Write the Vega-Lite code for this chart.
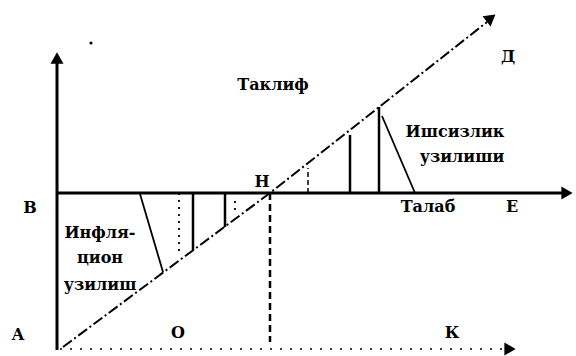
{
  "$schema": "https://vega.github.io/schema/vega-lite/v6.json",
  "width": 576,
  "height": 356,
  "autosize": {"type": "none"},
  "padding": 0,
  "background": "white",
  "config": {"view": {"stroke": null}},
  "datasets": {
    "segs": [
      {"id": "vaxis", "style": "axis", "o": 1, "x": 0, "y": -2},
      {"id": "vaxis", "style": "axis", "o": 2, "x": 0, "y": 286},
      {"id": "haxis", "style": "axis", "o": 1, "x": 0, "y": 155},
      {"id": "haxis", "style": "axis", "o": 2, "x": 505, "y": 155},
      {"id": "baxis", "style": "dotaxis", "o": 1, "x": 3, "y": -1},
      {"id": "baxis", "style": "dotaxis", "o": 2, "x": 448, "y": -1},
      {"id": "diag", "style": "diag", "o": 1, "x": 6, "y": 1},
      {"id": "diag", "style": "diag", "o": 2, "x": 213, "y": 155},
      {"id": "diag", "style": "diag", "o": 3, "x": 430, "y": 326},
      {"id": "hvert", "style": "vdash", "o": 1, "x": 213, "y": 155},
      {"id": "hvert", "style": "vdash", "o": 2, "x": 213, "y": 6},
      {"id": "l1", "style": "dot", "o": 1, "x": 122, "y": 155},
      {"id": "l1", "style": "dot", "o": 2, "x": 122, "y": 95},
      {"id": "l2", "style": "solid", "o": 1, "x": 136, "y": 155},
      {"id": "l2", "style": "solid", "o": 2, "x": 136, "y": 98},
      {"id": "l3", "style": "solid", "o": 1, "x": 168, "y": 155},
      {"id": "l3", "style": "solid", "o": 2, "x": 168, "y": 121},
      {"id": "l4", "style": "dot", "o": 1, "x": 178, "y": 147},
      {"id": "l4", "style": "dot", "o": 2, "x": 178, "y": 134},
      {"id": "l5", "style": "thin", "o": 1, "x": 83, "y": 154},
      {"id": "l5", "style": "thin", "o": 2, "x": 106, "y": 76},
      {"id": "r1", "style": "dash", "o": 1, "x": 251, "y": 155},
      {"id": "r1", "style": "dash", "o": 2, "x": 251, "y": 180},
      {"id": "r2", "style": "solid", "o": 1, "x": 293, "y": 155},
      {"id": "r2", "style": "solid", "o": 2, "x": 293, "y": 213},
      {"id": "r3", "style": "solid", "o": 1, "x": 322, "y": 155},
      {"id": "r3", "style": "solid", "o": 2, "x": 322, "y": 241},
      {"id": "r4", "style": "thin", "o": 1, "x": 325, "y": 232},
      {"id": "r4", "style": "thin", "o": 2, "x": 358, "y": 155}
    ],
    "heads": [
      {"x": 0, "y": 290, "shape": "triangle-up", "angle": 0},
      {"x": 510, "y": 155, "shape": "triangle-right", "angle": 0},
      {"x": 453, "y": -1, "shape": "triangle-right", "angle": 0},
      {"x": 434, "y": 330, "shape": "triangle-up", "angle": 52},
      {"x": 34, "y": 305, "shape": "circle", "angle": 0}
    ],
    "labels": [
      {"x": 216, "y": 263, "text": "Таклиф"},
      {"x": 451, "y": 291, "text": "Д"},
      {"x": 398, "y": 216, "text": "Ишсизлик"},
      {"x": 405, "y": 191, "text": "узилиши"},
      {"x": 371, "y": 141, "text": "Талаб"},
      {"x": 455, "y": 141, "text": "Е"},
      {"x": -27, "y": 140, "text": "В"},
      {"x": 43, "y": 115, "text": "Инфля-"},
      {"x": 43, "y": 90, "text": "цион"},
      {"x": 43, "y": 63, "text": "узилиш"},
      {"x": -39, "y": 13, "text": "А"},
      {"x": 121, "y": 15, "text": "О"},
      {"x": 395, "y": 15, "text": "К"},
      {"x": 205, "y": 166, "text": "Н"}
    ]
  },
  "encoding": {
    "x": {"field": "x", "type": "quantitative", "scale": {"domain": [-57, 519], "nice": false, "zero": false}, "axis": null},
    "y": {"field": "y", "type": "quantitative", "scale": {"domain": [-8, 348], "nice": false, "zero": false}, "axis": null}
  },
  "layer": [
    {
      "data": {"name": "segs"},
      "transform": [{"filter": "datum.style == 'axis'"}],
      "mark": {"type": "line", "color": "black", "strokeWidth": 3},
      "encoding": {"detail": {"field": "id"}, "order": {"field": "o"}}
    },
    {
      "data": {"name": "segs"},
      "transform": [{"filter": "datum.style == 'solid'"}],
      "mark": {"type": "line", "color": "black", "strokeWidth": 2.5},
      "encoding": {"detail": {"field": "id"}, "order": {"field": "o"}}
    },
    {
      "data": {"name": "segs"},
      "transform": [{"filter": "datum.style == 'thin'"}],
      "mark": {"type": "line", "color": "black", "strokeWidth": 1.8},
      "encoding": {"detail": {"field": "id"}, "order": {"field": "o"}}
    },
    {
      "data": {"name": "segs"},
      "transform": [{"filter": "datum.style == 'diag'"}],
      "mark": {"type": "line", "color": "black", "strokeWidth": 2, "strokeDash": [11, 3, 2, 3]},
      "encoding": {"detail": {"field": "id"}, "order": {"field": "o"}}
    },
    {
      "data": {"name": "segs"},
      "transform": [{"filter": "datum.style == 'vdash'"}],
      "mark": {"type": "line", "color": "black", "strokeWidth": 2.5, "strokeDash": [7, 4]},
      "encoding": {"detail": {"field": "id"}, "order": {"field": "o"}}
    },
    {
      "data": {"name": "segs"},
      "transform": [{"filter": "datum.style == 'dash'"}],
      "mark": {"type": "line", "color": "black", "strokeWidth": 1.5, "strokeDash": [5, 3]},
      "encoding": {"detail": {"field": "id"}, "order": {"field": "o"}}
    },
    {
      "data": {"name": "segs"},
      "transform": [{"filter": "datum.style == 'dot'"}],
      "mark": {"type": "line", "color": "black", "strokeWidth": 1.8, "strokeDash": [2, 5]},
      "encoding": {"detail": {"field": "id"}, "order": {"field": "o"}}
    },
    {
      "data": {"name": "segs"},
      "transform": [{"filter": "datum.style == 'dotaxis'"}],
      "mark": {"type": "line", "color": "black", "strokeWidth": 1.3, "strokeDash": [2, 8]},
      "encoding": {"detail": {"field": "id"}, "order": {"field": "o"}}
    },
    {
      "data": {"name": "heads"},
      "transform": [{"filter": "datum.shape != 'circle'"}],
      "mark": {"type": "point", "filled": true, "color": "black", "opacity": 1, "size": 170},
      "encoding": {
        "shape": {"field": "shape", "type": "nominal", "scale": null},
        "angle": {"field": "angle", "type": "quantitative", "scale": null}
      }
    },
    {
      "data": {"name": "heads"},
      "transform": [{"filter": "datum.shape == 'circle'"}],
      "mark": {"type": "point", "filled": true, "color": "black", "opacity": 1, "size": 10, "shape": "circle"}
    },
    {
      "data": {"name": "labels"},
      "mark": {"type": "text", "font": "DejaVu Serif", "fontWeight": "bold", "fontSize": 16, "color": "black", "align": "center", "baseline": "middle"},
      "encoding": {"text": {"field": "text"}}
    }
  ]
}
